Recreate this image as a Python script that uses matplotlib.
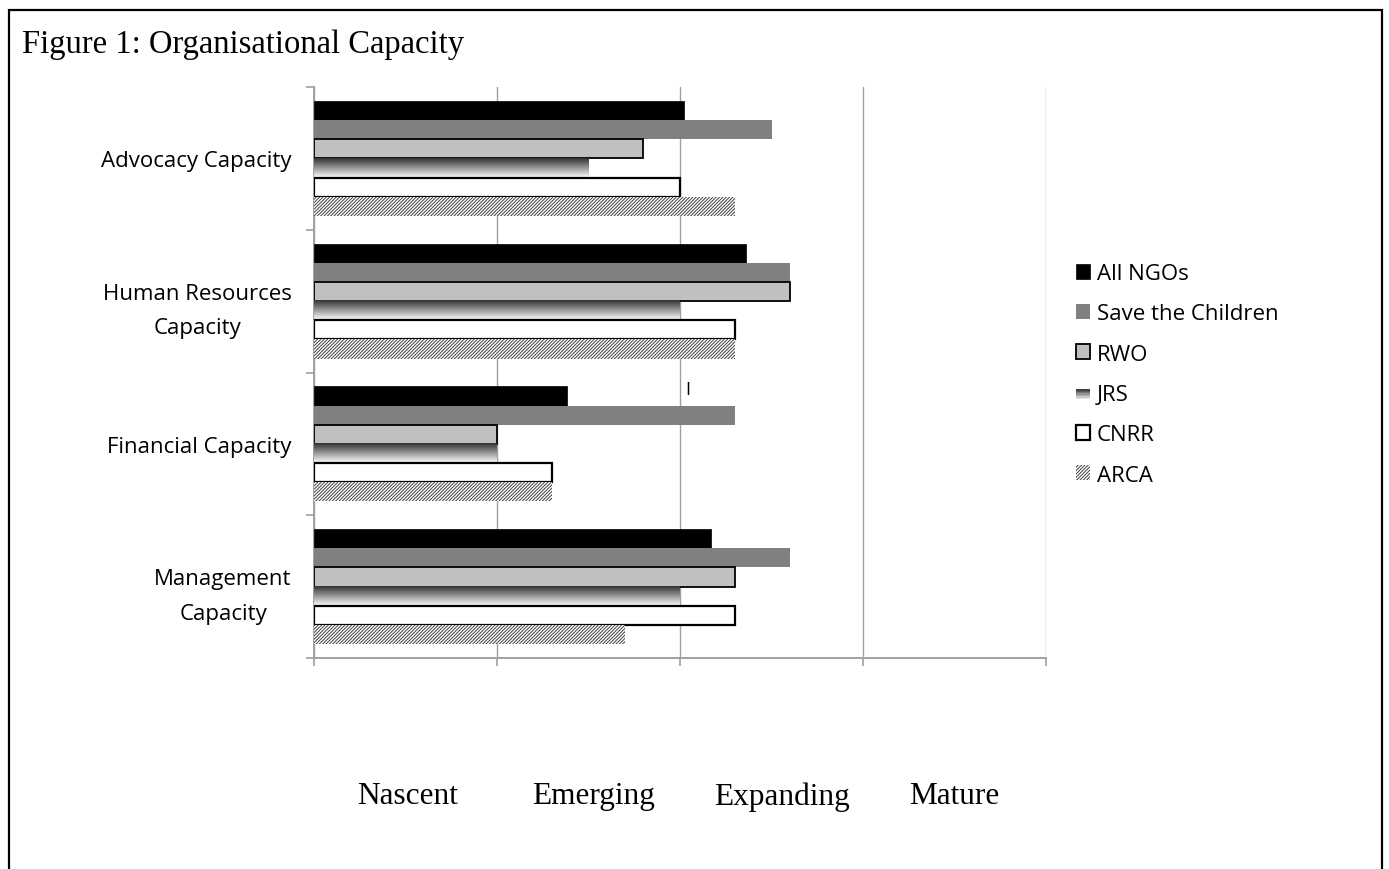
import numpy as np
import matplotlib.pyplot as plt
from matplotlib.patches import Rectangle
from matplotlib.transforms import blended_transform_factory

# データ
categories = ['Advocacy Capacity', 'Human Resources\nCapacity',
              'Financial Capacity', 'Management\nCapacity']
series = ['All NGOs', 'Save the Children', 'RWO', 'JRS', 'CNRR', 'ARCA']
all_ngos = [2.02, 2.36, 1.38, 2.17]
save_children = [2.50, 2.60, 2.30, 2.60]
rwo = [1.80, 2.60, 1.00, 2.30]
jrs = [1.50, 2.00, 1.00, 2.00]
cnrr = [2.00, 2.30, 1.30, 2.30]
arca = [2.30, 2.30, 1.30, 1.70]
stages = ['Nascent', 'Emerging', 'Expanding', 'Mature']

values = [all_ngos, save_children, rwo, jrs, cnrr, arca]

sans = ['Open Sans', 'DejaVu Sans']
serif = ['Liberation Serif', 'DejaVu Serif']
plt.rcParams['hatch.linewidth'] = 0.7

fig = plt.figure(figsize=(13.89, 8.70), dpi=100)
ax = fig.add_axes([314/1389, 1-659/870, (1046-314)/1389, (659-88)/870])

h = 0.134
ypos = np.arange(len(categories))[::-1]   # Advocacy を上に

styles = [
    dict(color='black', edgecolor='black', linewidth=0.5),
    dict(color='#808080', edgecolor='none'),
    dict(facecolor='#c0c0c0', edgecolor='black', linewidth=1.3),
    dict(facecolor='none', edgecolor='none'),
    dict(facecolor='white', edgecolor='black', linewidth=1.6),
    dict(facecolor='white', edgecolor='#404040', hatch='//////////', linewidth=0),
]

handles = []
for i, (name, v, st) in enumerate(zip(series, values, styles)):
    bars = ax.barh(ypos + (2.5 - i)*h, v, height=h, label=name, zorder=3, **st)
    handles.append(bars)
    if name == 'JRS':
        # グラデーション（上が暗く下が白）
        grad = np.linspace(0.2, 1.0, 64).reshape(-1, 1)
        for b in bars:
            x0, y0 = b.get_x(), b.get_y()
            ax.imshow(grad, extent=[x0, x0 + b.get_width(), y0, y0 + b.get_height()],
                      origin='upper', cmap='gray', vmin=0, vmax=1,
                      aspect='auto', zorder=3, interpolation='bilinear')

ax.set_xlim(0, 4)
ax.set_ylim(-0.5, 3.5)
ax.set_xticks(range(5))
ax.set_xticklabels([])
ax.set_yticks(np.arange(-0.5, 4, 1))
ax.set_yticklabels([])
ax.set_yticks(ypos, categories, minor=True)
ax.tick_params(axis='y', which='minor', length=0, pad=16, labelsize=16)
ax.tick_params(axis='both', which='major', length=6, color='#a0a0a0', width=1.2)
for lab in ax.get_yticklabels(minor=True):
    lab.set_family(sans)
    lab.set_multialignment('center')
    lab.set_linespacing(1.85)
ax.grid(axis='x', color='#a0a0a0', linewidth=1.0, zorder=0)
for s in ['top', 'right']:
    ax.spines[s].set_visible(False)
for s in ['left', 'bottom']:
    ax.spines[s].set_color('#a0a0a0')
    ax.spines[s].set_linewidth(1.4)


class GradHandler:
    def legend_artist(self, legend, orig_handle, fontsize, handlebox):
        x0, y0 = handlebox.xdescent, handlebox.ydescent
        w, hh = handlebox.width, handlebox.height * 0.75
        n = 8
        r = None
        for k in range(n):
            c = str(0.25 + 0.75*k/(n-1))
            r = Rectangle((x0, y0 + hh - (k+1)*hh/n), w, hh/n, facecolor=c,
                          edgecolor='none', transform=handlebox.get_transform())
            handlebox.add_artist(r)
        return r


leg = fig.legend(handles, series, loc='upper left',
                 bbox_to_anchor=(1076/1389, 1-264/870), frameon=False,
                 borderpad=0, borderaxespad=0, handlelength=0.65, handleheight=0.65,
                 handletextpad=0.3, labelspacing=0.87,
                 prop={'family': sans, 'size': 16},
                 handler_map={handles[3]: GradHandler()})

# 段階ラベル
stage_x = [0.51, 1.53, 2.56, 3.5]
trans = blended_transform_factory(ax.transData, fig.transFigure)
for x, s in zip(stage_x, stages):
    ax.text(x, 1-797/870, s, transform=trans,
            fontsize=22.5, family=serif, ha='center', va='center')

fig.text(22/1389, 1-45/870, 'Figure 1: Organisational Capacity',
         fontsize=23.5, family=serif, ha='left', va='center')
fig.text(688/1389, 1-390/870, 'I', fontsize=13, family=sans, ha='center', va='center')

# 外枠
fig.add_artist(Rectangle((9/1389, -0.1), (1382-9)/1389, 1.1 - 11/870,
                         transform=fig.transFigure, fill=False,
                         edgecolor='black', linewidth=1.6))

fig.savefig('out.png', dpi=100)
